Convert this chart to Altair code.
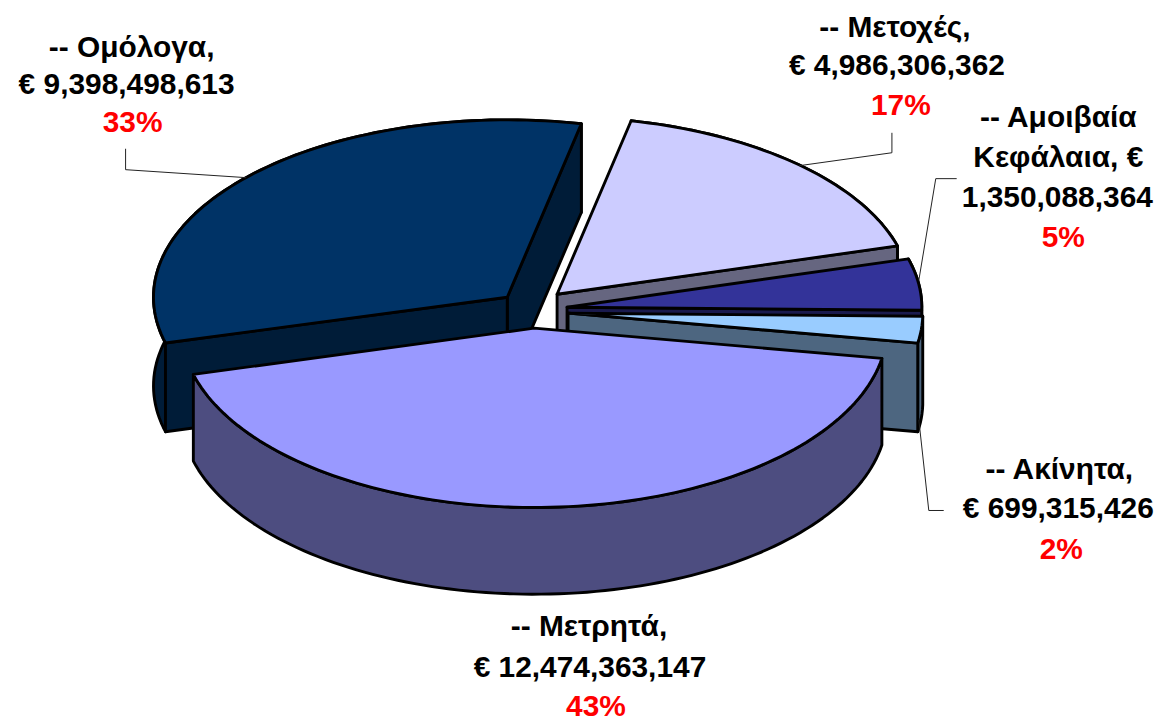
import math
import altair as alt
import pandas as pd

# Values
categories = ["Μετρητά", "Ομόλογα", "Μετοχές", "Αμοιβαία Κεφάλαια", "Ακίνητα"]
values = [12474363147, 9398498613, 4986306362, 1350088364, 699315426]
top_colors = ["#9999FF", "#003366", "#CCCCFF", "#333399", "#99CCFF"]
side_colors = ["#4D4D80", "#001C38", "#666680", "#1A1A4D", "#4D6680"]
apex_x = [536, 509, 559, 569, 570]
apex_y = [328, 297, 294, 307, 313]
radius_x = [354, 355, 355, 356, 356]
radius_y = [180, 178, 178, 178, 178]
depths = [87, 89, 89, 89, 89]

label_lines = [
    ["-- Μετρητά,", "€ 12,474,363,147", "43%"],
    ["-- Ομόλογα,", "€ 9,398,498,613", "33%"],
    ["-- Μετοχές,", "€ 4,986,306,362", "17%"],
    ["-- Αμοιβαία", "Κεφάλαια, €", "1,350,088,364", "5%"],
    ["-- Ακίνητα,", "€ 699,315,426", "2%"],
]
label_x = [[591, 592, 598], [132, 127, 133], [898, 900, 904], [1062, 1062, 1061, 1067], [1063, 1062, 1065]]
label_y = [[628, 669, 708], [47, 84, 122], [27, 65, 105], [117, 157, 197, 238], [470, 510, 551]]

leaders = [
    [(126, 148), (126, 169), (247, 177)],
    [(895, 132), (895, 152), (802, 165)],
    [(960, 178), (939, 178), (922, 280)],
    [(947, 511), (932, 511), (922, 420)],
]

START = 9.7

W, H = 1146, 712
xs = alt.Scale(domain=[8, 8 + W], range=[0, W], nice=False, zero=False)
ys = alt.Scale(domain=[8, 8 + H], range=[0, H], nice=False, zero=False)


def pt(i, t):
    r = math.radians(t)
    return (apex_x[i] + radius_x[i] * math.cos(r), apex_y[i] + radius_y[i] * math.sin(r))


def arc(i, t1, t2):
    n = max(2, int(abs(t2 - t1) / 1.5) + 1)
    return [pt(i, t1 + (t2 - t1) * k / n) for k in range(n + 1)]


def down(i, points):
    return [(x, y + depths[i]) for x, y in points]


total = sum(values)
spans = []
cur = START
for v in values:
    spans.append((cur, cur + v / total * 360))
    cur += v / total * 360


def poly(points, fill):
    df = pd.DataFrame({"x": [p[0] for p in points], "y": [p[1] for p in points],
                       "o": list(range(len(points)))})
    return alt.Chart(df).mark_line(
        fill=fill, stroke="black", strokeWidth=2.9, interpolate="linear-closed",
        strokeJoin="round", clip=False
    ).encode(
        x=alt.X("x:Q", scale=xs, axis=None),
        y=alt.Y("y:Q", scale=ys, axis=None),
        order="o:Q",
    )


def radial_wall(i, t):
    a = (apex_x[i], apex_y[i])
    p = pt(i, t)
    d = depths[i]
    return [a, p, (p[0], p[1] + d), (a[0], a[1] + d)]


def faces(i, radials):
    t1, t2 = spans[i]
    out = []
    arc_pts = arc(i, t1, t2)
    out.append(poly(arc_pts + down(i, arc_pts)[::-1], side_colors[i]))
    for t in radials:
        out.append(poly(radial_wall(i, t), side_colors[i]))
    out.append(poly([(apex_x[i], apex_y[i])] + arc_pts, top_colors[i]))
    return out


layers = []
for i, radials in [(1, [spans[1][1], spans[1][0]]), (2, [spans[2][1]]),
                   (3, [spans[3][1]]), (4, [spans[4][1]]), (0, [])]:
    layers.extend(faces(i, radials))

# leader lines
for seg in leaders:
    df = pd.DataFrame({"x": [p[0] for p in seg], "y": [p[1] for p in seg], "o": list(range(len(seg)))})
    layers.append(alt.Chart(df).mark_line(color="#222222", strokeWidth=1).encode(
        x=alt.X("x:Q", scale=xs, axis=None), y=alt.Y("y:Q", scale=ys, axis=None), order="o:Q"))

rows = []
for lines, lxs, lys in zip(label_lines, label_x, label_y):
    for k, (s, lx, ly) in enumerate(zip(lines, lxs, lys)):
        rows.append({"x": lx, "y": ly, "s": s, "c": "#FF0000" if k == len(lines) - 1 else "#000000"})
text_df = pd.DataFrame(rows)
layers.append(alt.Chart(text_df).mark_text(
    font="Liberation Sans", fontWeight="bold", fontSize=30, baseline="middle", align="center"
).encode(
    x=alt.X("x:Q", scale=xs, axis=None), y=alt.Y("y:Q", scale=ys, axis=None),
    text="s:N", color=alt.Color("c:N", scale=None),
))

chart = alt.layer(*layers).properties(width=W, height=H, padding=0, background="white").configure_view(stroke=None)
chart.save("out.html", embed_options={"renderer": "svg", "actions": False})
